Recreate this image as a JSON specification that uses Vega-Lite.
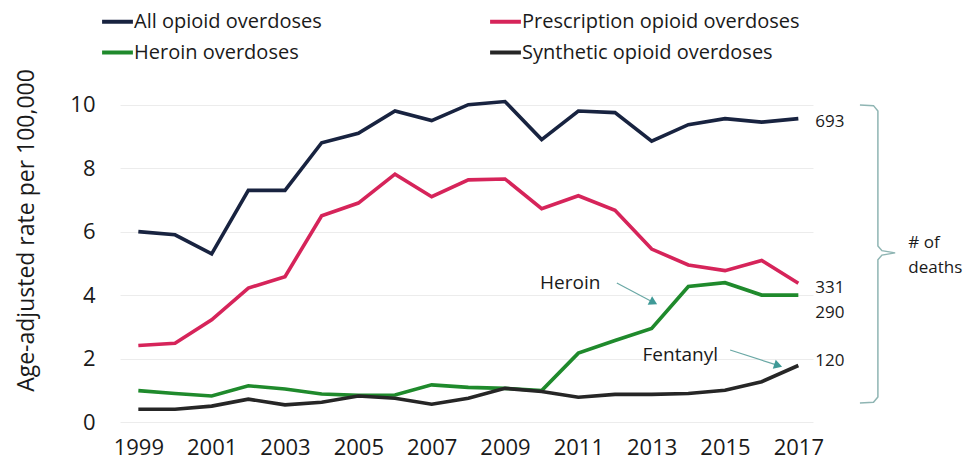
{
  "$schema": "https://vega.github.io/schema/vega-lite/v6.json",
  "width": 693,
  "height": 330,
  "autosize": {"type": "none"},
  "padding": {"left": 120, "top": 92, "right": 153, "bottom": 43},
  "background": "white",
  "config": {"view": {"stroke": null}, "font": "Open Sans"},
  "datasets": {
    "rates": [
      {"year": 1999, "series": "All opioid overdoses", "rate": 6.0},
      {"year": 2000, "series": "All opioid overdoses", "rate": 5.9},
      {"year": 2001, "series": "All opioid overdoses", "rate": 5.3},
      {"year": 2002, "series": "All opioid overdoses", "rate": 7.3},
      {"year": 2003, "series": "All opioid overdoses", "rate": 7.3},
      {"year": 2004, "series": "All opioid overdoses", "rate": 8.8},
      {"year": 2005, "series": "All opioid overdoses", "rate": 9.1},
      {"year": 2006, "series": "All opioid overdoses", "rate": 9.8},
      {"year": 2007, "series": "All opioid overdoses", "rate": 9.5},
      {"year": 2008, "series": "All opioid overdoses", "rate": 10.0},
      {"year": 2009, "series": "All opioid overdoses", "rate": 10.1},
      {"year": 2010, "series": "All opioid overdoses", "rate": 8.9},
      {"year": 2011, "series": "All opioid overdoses", "rate": 9.8},
      {"year": 2012, "series": "All opioid overdoses", "rate": 9.75},
      {"year": 2013, "series": "All opioid overdoses", "rate": 8.85},
      {"year": 2014, "series": "All opioid overdoses", "rate": 9.37},
      {"year": 2015, "series": "All opioid overdoses", "rate": 9.56},
      {"year": 2016, "series": "All opioid overdoses", "rate": 9.45},
      {"year": 2017, "series": "All opioid overdoses", "rate": 9.56},
      {"year": 1999, "series": "Prescription opioid overdoses", "rate": 2.41},
      {"year": 2000, "series": "Prescription opioid overdoses", "rate": 2.48},
      {"year": 2001, "series": "Prescription opioid overdoses", "rate": 3.22},
      {"year": 2002, "series": "Prescription opioid overdoses", "rate": 4.22},
      {"year": 2003, "series": "Prescription opioid overdoses", "rate": 4.58},
      {"year": 2004, "series": "Prescription opioid overdoses", "rate": 6.5},
      {"year": 2005, "series": "Prescription opioid overdoses", "rate": 6.9},
      {"year": 2006, "series": "Prescription opioid overdoses", "rate": 7.81},
      {"year": 2007, "series": "Prescription opioid overdoses", "rate": 7.1},
      {"year": 2008, "series": "Prescription opioid overdoses", "rate": 7.63},
      {"year": 2009, "series": "Prescription opioid overdoses", "rate": 7.66},
      {"year": 2010, "series": "Prescription opioid overdoses", "rate": 6.72},
      {"year": 2011, "series": "Prescription opioid overdoses", "rate": 7.13},
      {"year": 2012, "series": "Prescription opioid overdoses", "rate": 6.67},
      {"year": 2013, "series": "Prescription opioid overdoses", "rate": 5.45},
      {"year": 2014, "series": "Prescription opioid overdoses", "rate": 4.95},
      {"year": 2015, "series": "Prescription opioid overdoses", "rate": 4.77},
      {"year": 2016, "series": "Prescription opioid overdoses", "rate": 5.09},
      {"year": 2017, "series": "Prescription opioid overdoses", "rate": 4.37},
      {"year": 1999, "series": "Heroin overdoses", "rate": 0.99},
      {"year": 2000, "series": "Heroin overdoses", "rate": 0.9},
      {"year": 2001, "series": "Heroin overdoses", "rate": 0.82},
      {"year": 2002, "series": "Heroin overdoses", "rate": 1.14},
      {"year": 2003, "series": "Heroin overdoses", "rate": 1.04},
      {"year": 2004, "series": "Heroin overdoses", "rate": 0.88},
      {"year": 2005, "series": "Heroin overdoses", "rate": 0.84},
      {"year": 2006, "series": "Heroin overdoses", "rate": 0.85},
      {"year": 2007, "series": "Heroin overdoses", "rate": 1.17},
      {"year": 2008, "series": "Heroin overdoses", "rate": 1.09},
      {"year": 2009, "series": "Heroin overdoses", "rate": 1.06},
      {"year": 2010, "series": "Heroin overdoses", "rate": 0.99},
      {"year": 2011, "series": "Heroin overdoses", "rate": 2.17},
      {"year": 2012, "series": "Heroin overdoses", "rate": 2.57},
      {"year": 2013, "series": "Heroin overdoses", "rate": 2.95},
      {"year": 2014, "series": "Heroin overdoses", "rate": 4.27},
      {"year": 2015, "series": "Heroin overdoses", "rate": 4.39},
      {"year": 2016, "series": "Heroin overdoses", "rate": 4.0},
      {"year": 2017, "series": "Heroin overdoses", "rate": 4.0},
      {"year": 1999, "series": "Synthetic opioid overdoses", "rate": 0.4},
      {"year": 2000, "series": "Synthetic opioid overdoses", "rate": 0.4},
      {"year": 2001, "series": "Synthetic opioid overdoses", "rate": 0.5},
      {"year": 2002, "series": "Synthetic opioid overdoses", "rate": 0.72},
      {"year": 2003, "series": "Synthetic opioid overdoses", "rate": 0.54},
      {"year": 2004, "series": "Synthetic opioid overdoses", "rate": 0.62},
      {"year": 2005, "series": "Synthetic opioid overdoses", "rate": 0.82},
      {"year": 2006, "series": "Synthetic opioid overdoses", "rate": 0.75},
      {"year": 2007, "series": "Synthetic opioid overdoses", "rate": 0.56},
      {"year": 2008, "series": "Synthetic opioid overdoses", "rate": 0.75},
      {"year": 2009, "series": "Synthetic opioid overdoses", "rate": 1.06},
      {"year": 2010, "series": "Synthetic opioid overdoses", "rate": 0.96},
      {"year": 2011, "series": "Synthetic opioid overdoses", "rate": 0.78},
      {"year": 2012, "series": "Synthetic opioid overdoses", "rate": 0.87},
      {"year": 2013, "series": "Synthetic opioid overdoses", "rate": 0.87},
      {"year": 2014, "series": "Synthetic opioid overdoses", "rate": 0.9},
      {"year": 2015, "series": "Synthetic opioid overdoses", "rate": 1.0},
      {"year": 2016, "series": "Synthetic opioid overdoses", "rate": 1.27},
      {"year": 2017, "series": "Synthetic opioid overdoses", "rate": 1.78}
    ],
    "endLabels": [
      {"year": 2017, "rate": 9.46, "label": "693"},
      {"year": 2017, "rate": 4.22, "label": "331"},
      {"year": 2017, "rate": 3.45, "label": "290"},
      {"year": 2017, "rate": 1.92, "label": "120"}
    ],
    "brace": [
      {"i": 0, "year": 2018.68, "rate": 9.99},
      {"i": 1, "year": 2019.05, "rate": 9.97},
      {"i": 2, "year": 2019.17, "rate": 9.8},
      {"i": 3, "year": 2019.17, "rate": 5.55},
      {"i": 4, "year": 2019.28, "rate": 5.4},
      {"i": 5, "year": 2019.64, "rate": 5.33},
      {"i": 6, "year": 2019.28, "rate": 5.26},
      {"i": 7, "year": 2019.17, "rate": 5.11},
      {"i": 8, "year": 2019.17, "rate": 0.79},
      {"i": 9, "year": 2019.05, "rate": 0.62},
      {"i": 10, "year": 2018.68, "rate": 0.6}
    ]
  },
  "layer": [
    {
      "data": {"name": "rates"},
      "mark": {"type": "line", "strokeWidth": 3.6},
      "encoding": {
        "x": {
          "field": "year", "type": "quantitative",
          "scale": {"domain": [1998.5, 2017.4], "nice": false, "zero": false},
          "axis": {
            "values": [1999, 2001, 2003, 2005, 2007, 2009, 2011, 2013, 2015, 2017],
            "format": "d", "title": null, "grid": false, "domain": false, "ticks": false,
            "labelFontSize": 22, "labelColor": "#1a1a1a", "labelPadding": 15, "labelFlush": false
          }
        },
        "y": {
          "field": "rate", "type": "quantitative",
          "scale": {"domain": [0, 10.4], "nice": false},
          "axis": {
            "values": [0, 2, 4, 6, 8, 10],
            "title": "Age-adjusted rate per 100,000",
            "titleFontSize": 23, "titleFontWeight": "normal", "titleColor": "#1a1a1a", "titlePadding": 31,
            "titleY": 138,
            "grid": true, "gridColor": "#ececec", "domain": false, "ticks": false,
            "labelFontSize": 22, "labelColor": "#1a1a1a", "labelPadding": 25
          }
        },
        "color": {
          "field": "series", "type": "nominal",
          "scale": {
            "domain": ["All opioid overdoses", "Prescription opioid overdoses", "Heroin overdoses", "Synthetic opioid overdoses"],
            "range": ["#182340", "#d6245a", "#1f8a2c", "#262626"]
          },
          "legend": {
            "title": null, "orient": "none", "legendX": -20, "legendY": -88,
            "direction": "horizontal",
            "values": ["All opioid overdoses", "Prescription opioid overdoses", "Heroin overdoses", "Synthetic opioid overdoses"],
            "columns": 2, "columnPadding": 160, "rowPadding": 3,
            "symbolType": "stroke", "symbolSize": 950, "symbolStrokeWidth": 4,
            "labelFontSize": 20, "labelColor": "#1a1a1a", "labelOffset": -1, "labelLimit": 400
          }
        }
      }
    },
    {
      "data": {"name": "endLabels"},
      "mark": {"type": "text", "align": "left", "baseline": "middle", "dx": 17, "fontSize": 17, "color": "#1a1a1a"},
      "encoding": {
        "x": {"field": "year", "type": "quantitative"},
        "y": {"field": "rate", "type": "quantitative"},
        "text": {"field": "label"}
      }
    },
    {
      "data": {"name": "brace"},
      "mark": {"type": "line", "strokeWidth": 1.5, "color": "#8fb5b3"},
      "encoding": {
        "x": {"field": "year", "type": "quantitative"},
        "y": {"field": "rate", "type": "quantitative"},
        "order": {"field": "i"}
      }
    },
    {
      "data": {"values": [{"year": 2020.0, "rate": 5.89, "label": "# of\ndeaths"}]},
      "mark": {"type": "text", "align": "left", "baseline": "top", "fontSize": 17, "lineHeight": 25, "lineBreak": "\n", "color": "#1a1a1a"},
      "encoding": {
        "x": {"field": "year", "type": "quantitative"},
        "y": {"field": "rate", "type": "quantitative"},
        "text": {"field": "label"}
      }
    },
    {
      "data": {"values": [{"year": 2010.78, "rate": 4.38, "label": "Heroin"}, {"year": 2013.78, "rate": 2.11, "label": "Fentanyl"}]},
      "mark": {"type": "text", "align": "center", "baseline": "middle", "fontSize": 19, "color": "#1a1a1a"},
      "encoding": {
        "x": {"field": "year", "type": "quantitative"},
        "y": {"field": "rate", "type": "quantitative"},
        "text": {"field": "label"}
      }
    },
    {
      "data": {"values": [{"year": 2012.05, "rate": 4.38, "year2": 2013.0, "rate2": 3.8}, {"year": 2015.14, "rate": 2.27, "year2": 2016.4, "rate2": 1.8}]},
      "mark": {"type": "rule", "strokeWidth": 1.2, "color": "#6aa8a5"},
      "encoding": {
        "x": {"field": "year", "type": "quantitative"},
        "y": {"field": "rate", "type": "quantitative"},
        "x2": {"field": "year2"},
        "y2": {"field": "rate2"}
      }
    },
    {
      "data": {"values": [{"year": 2013.05, "rate": 3.77}]},
      "mark": {"type": "point", "shape": "triangle-right", "filled": true, "size": 90, "angle": 28, "color": "#3f9a97", "opacity": 1},
      "encoding": {
        "x": {"field": "year", "type": "quantitative"},
        "y": {"field": "rate", "type": "quantitative"}
      }
    },
    {
      "data": {"values": [{"year": 2016.45, "rate": 1.78}]},
      "mark": {"type": "point", "shape": "triangle-right", "filled": true, "size": 90, "angle": 18, "color": "#3f9a97", "opacity": 1},
      "encoding": {
        "x": {"field": "year", "type": "quantitative"},
        "y": {"field": "rate", "type": "quantitative"}
      }
    }
  ]
}
